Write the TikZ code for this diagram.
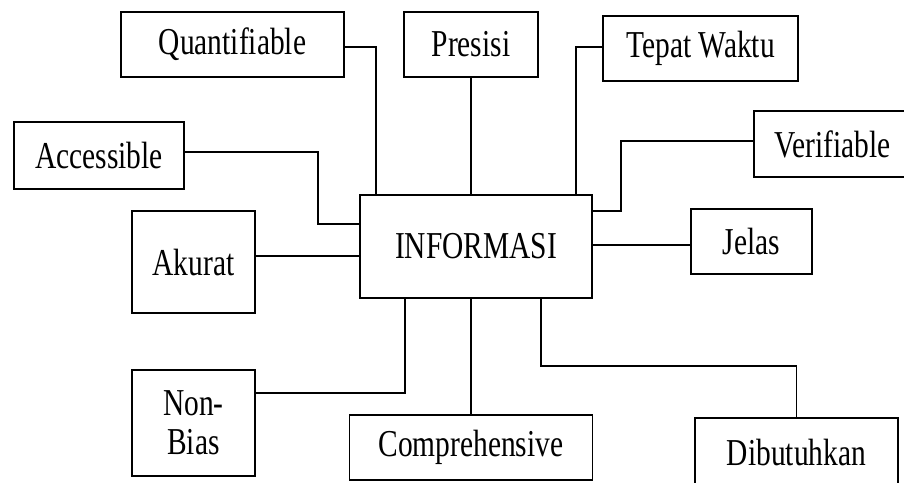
\documentclass[tikz,border=0pt]{standalone}
\usepackage{fontspec}
\setmainfont{Liberation Serif}[FakeStretch=0.775]
\begin{document}
\begin{tikzpicture}[x=1pt,y=-1pt,
  box/.style={draw, line width=1.6pt, inner sep=0pt, align=center,
    font=\fontsize{38}{39}\selectfont},
  link/.style={draw, line width=1.6pt}]
\useasboundingbox (0,0) rectangle (904,482);
\clip (0,0) rectangle (904,482);
% central node
\node[box, minimum width=232pt, minimum height=103pt] (info) at (476,246.5) {INFORMASI};
% surrounding qualities
\node[box, minimum width=223pt, minimum height=65pt] (quant) at (232.5,44.5) {Quantifiable};
\node[box, minimum width=134pt, minimum height=65pt] (pres) at (471,44.5) {Presisi};
\node[box, minimum width=195pt, minimum height=65pt] (tepat) at (700.5,48.5) {Tepat Waktu};
\node[box, minimum width=157pt, minimum height=66pt] (verif) at (832.5,144) {Verifiable};
\node[box, minimum width=170pt, minimum height=67pt] (acc) at (99,155.5) {Accessible};
\node[box, minimum width=123pt, minimum height=102pt] (akur) at (193.5,262) {Akurat};
\node[box, minimum width=121pt, minimum height=65pt] (jelas) at (751.5,241.5) {Jelas};
\node[box, minimum width=123pt, minimum height=106pt] (nonb) at (193.5,423) {Non-\\Bias};
\node[box, minimum width=243pt, minimum height=65pt] (comp) at (471,447.5) {Comprehensive};
\node[box, minimum width=203pt, minimum height=68pt] (dibut) at (796.5,452) {Dibutuhkan};
% bend points
\coordinate (vbend) at (621,211);
\coordinate (abend) at (318,224);
% connectors (shifts are in page direction: positive is upwards)
\draw[link] ([yshift=-2.5pt]quant.east) -| ([xshift=17pt]info.north west);
\draw[link] (pres.south) -- (pres.south |- info.north);
\draw[link] ([yshift=1.5pt]tepat.west) -| ([xshift=-17pt]info.north east);
\draw[link] ([yshift=3pt]verif.west) -| (vbend) -- (vbend -| info.east);
\draw[link] ([yshift=3.5pt]acc.east) -| (abend) -- (abend -| info.west);
\draw[link] ([yshift=-9.5pt]info.west) -- ([yshift=-9.5pt]info.west -| akur.east);
\draw[link] ([yshift=1.5pt]info.east) -- ([yshift=1.5pt]info.east -| jelas.west);
\draw[link] ([yshift=30pt]nonb.east) -| ([xshift=46pt]info.south west);
\draw[link] (comp.north) -- (comp.north |- info.south);
\draw[link] ([xshift=-52pt]info.south east) -- ++(0,67) -| (dibut.north);
\end{tikzpicture}
\end{document}
